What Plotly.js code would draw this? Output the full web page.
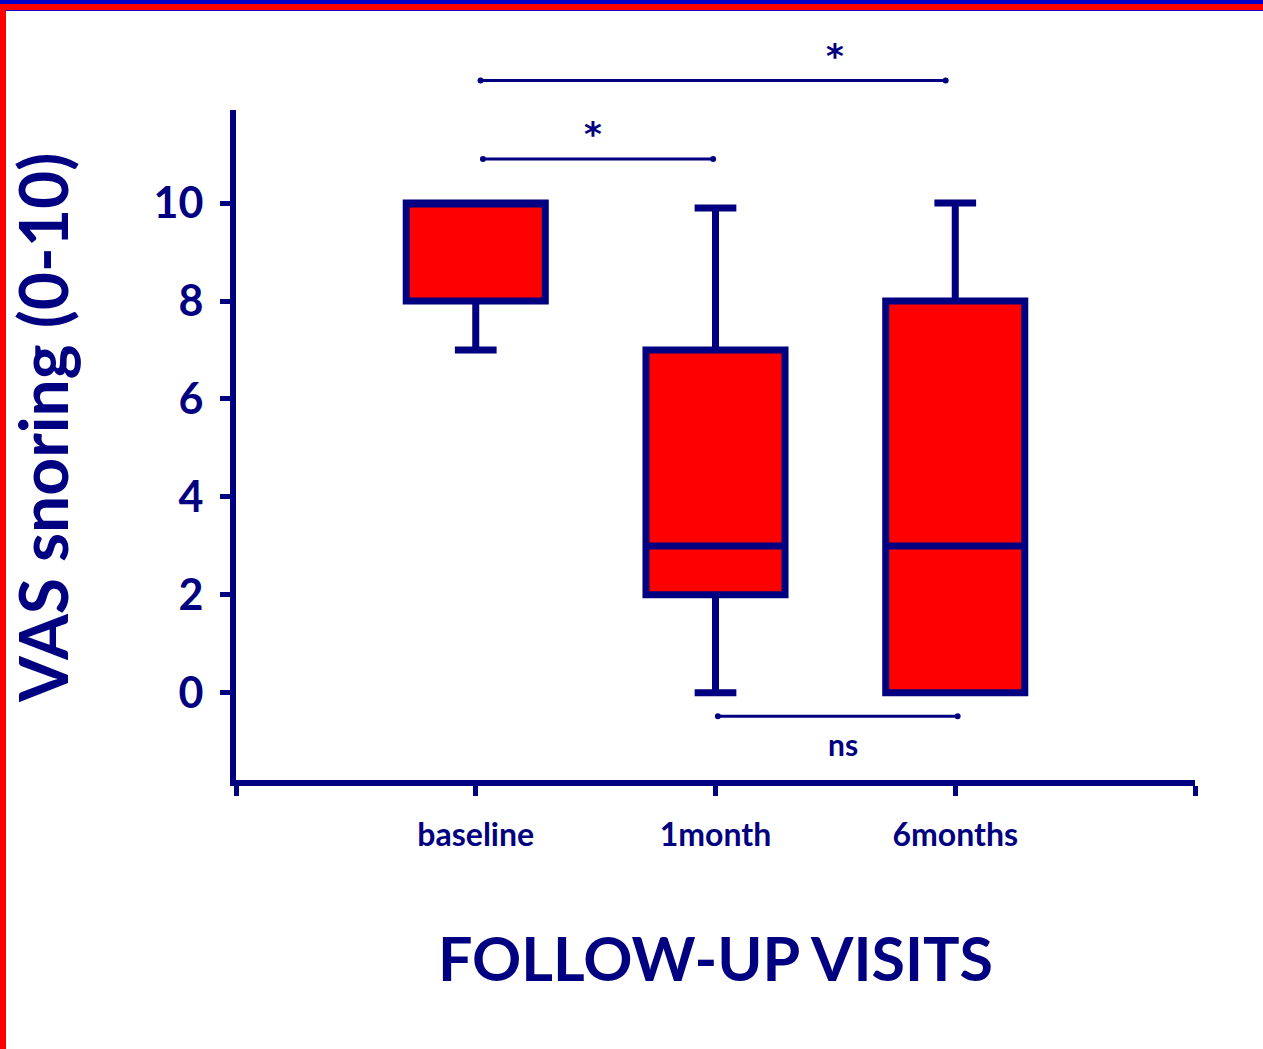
<!DOCTYPE html>
<html>
<head>
<meta charset="utf-8">
<script src="https://cdn.plot.ly/plotly-3.0.1.min.js"></script>
<style>
  html, body { margin: 0; padding: 0; background: #ffffff; }
  #wrap { position: relative; width: 1263px; height: 1049px; overflow: hidden; }
  #chart { position: absolute; left: 0; top: 0; width: 1263px; height: 1049px; }
  .bar-blue { position: absolute; left: 0; top: 0; width: 1263px; height: 4px; background: #0000cc; }
  .bar-red { position: absolute; left: 0; top: 4px; width: 1263px; height: 6px; background: #ff0000; border-bottom: 1px solid #2000c0; }
  .bar-left { position: absolute; left: 0; top: 4px; width: 6px; height: 1045px; background: #ff0000; border-top-left-radius: 4px; }
</style>
</head>
<body>
<div id="wrap">
  <div id="chart"></div>
  <div class="bar-blue"></div>
  <div class="bar-red"></div>
  <div class="bar-left"></div>
</div>
<script>
// ---- data ----
const categories = ['baseline', '1month', '6months'];
const lowerWhisker = [7, 0, 0];
const q1Values     = [8, 2, 0];
const medianValues = [10, 3, 3];
const q3Values     = [10, 7, 8];
const upperWhisker = [10, 9.9, 10];

const yTickVals = [0, 2, 4, 6, 8, 10];

// significance comparisons (x in category-index units, y in VAS units)
const compStartX = [0.02, 0.03, 1.01];
const compEndX   = [1.96, 0.99, 2.01];
const compLineY  = [12.5, 10.9, -0.48];
const compLabel  = ['*', '*', 'ns'];
const compLabelX = [1.5, 0.49, 1.53];
const compLabelY = [13.0, 11.4, -1.05];

const yTitleText = 'VAS snoring (0-10)';
const xTitleText = 'FOLLOW-UP VISITS';

// ---- chart ----
const NAVY = '#000080';
const FONT = 'Lato, "Open Sans", sans-serif';
const xRange = [-1, 3];
const yRange = [-1.78, 11.9];
const xPos = categories.map((c, i) => i);

const px = v => (v - xRange[0]) / (xRange[1] - xRange[0]);
const py = v => (v - yRange[0]) / (yRange[1] - yRange[0]);

const trace = {
  type: 'box',
  x: xPos,
  q1: q1Values,
  median: medianValues,
  q3: q3Values,
  lowerfence: lowerWhisker,
  upperfence: upperWhisker,
  boxpoints: false,
  width: 0.58,
  whiskerwidth: 0.3,
  fillcolor: '#ff0000',
  line: { color: NAVY, width: 7 },
  showlegend: false,
  hoverinfo: 'skip'
};

const shapes = [];
const annotations = [];
for (let i = 0; i < compLabel.length; i++) {
  shapes.push({
    type: 'line', xref: 'paper', yref: 'paper',
    x0: px(compStartX[i]), x1: px(compEndX[i]),
    y0: py(compLineY[i]), y1: py(compLineY[i]),
    line: { color: NAVY, width: 3 }
  });
  [compStartX[i], compEndX[i]].forEach(xv => {
    shapes.push({
      type: 'circle', xref: 'paper', yref: 'paper',
      xsizemode: 'pixel', ysizemode: 'pixel',
      xanchor: px(xv), yanchor: py(compLineY[i]),
      x0: -3, x1: 3, y0: -3, y1: 3,
      fillcolor: NAVY, line: { width: 0 }
    });
  });
  const isStar = compLabel[i] === '*';
  annotations.push({
    xref: 'paper', yref: 'paper',
    x: px(compLabelX[i]), y: py(compLabelY[i]),
    text: compLabel[i], showarrow: false,
    font: { family: isStar ? '"DejaVu Sans", sans-serif' : FONT,
            size: isStar ? 34 : 30, color: NAVY, weight: 'bold' },
    xanchor: 'center', yanchor: 'middle'
  });
}

// y-axis title, placed as rotated text so it can sit slightly above centre as in the reference
annotations.push({
  xref: 'paper', yref: 'paper',
  x: -0.2025, y: 0.525,
  text: yTitleText, showarrow: false, textangle: -90,
  font: { family: FONT, size: 66, color: NAVY, weight: 'bold' },
  xanchor: 'center', yanchor: 'middle'
});

const layout = {
  width: 1263, height: 1049,
  margin: { l: 236, r: 68, t: 110, b: 269, pad: 0 },
  paper_bgcolor: '#ffffff', plot_bgcolor: '#ffffff',
  showlegend: false,
  xaxis: {
    type: 'linear', range: xRange, fixedrange: true,
    tickmode: 'array', tickvals: [-1, 0, 1, 2, 3],
    ticktext: ['', categories[0], categories[1], categories[2], ''],
    showgrid: false, zeroline: false,
    showline: true, linecolor: NAVY, linewidth: 6,
    ticks: 'outside', ticklen: 10, tickwidth: 5, tickcolor: NAVY,
    ticklabelstandoff: 12,
    tickfont: { family: FONT, size: 32, color: NAVY, weight: 'bold' },
    title: { text: xTitleText, standoff: 88,
             font: { family: FONT, size: 61, color: NAVY, weight: 'bold' } }
  },
  yaxis: {
    type: 'linear', range: yRange, fixedrange: true,
    tickmode: 'array', tickvals: yTickVals,
    showgrid: false, zeroline: false,
    showline: true, linecolor: NAVY, linewidth: 6,
    ticks: 'outside', ticklen: 10, tickwidth: 5, tickcolor: NAVY,
    ticklabelstandoff: 8,
    tickfont: { family: FONT, size: 43, color: NAVY, weight: 'bold' }
  },
  shapes: shapes,
  annotations: annotations
};

Plotly.newPlot('chart', [trace], layout, { staticPlot: true, displayModeBar: false });
</script>
</body>
</html>
